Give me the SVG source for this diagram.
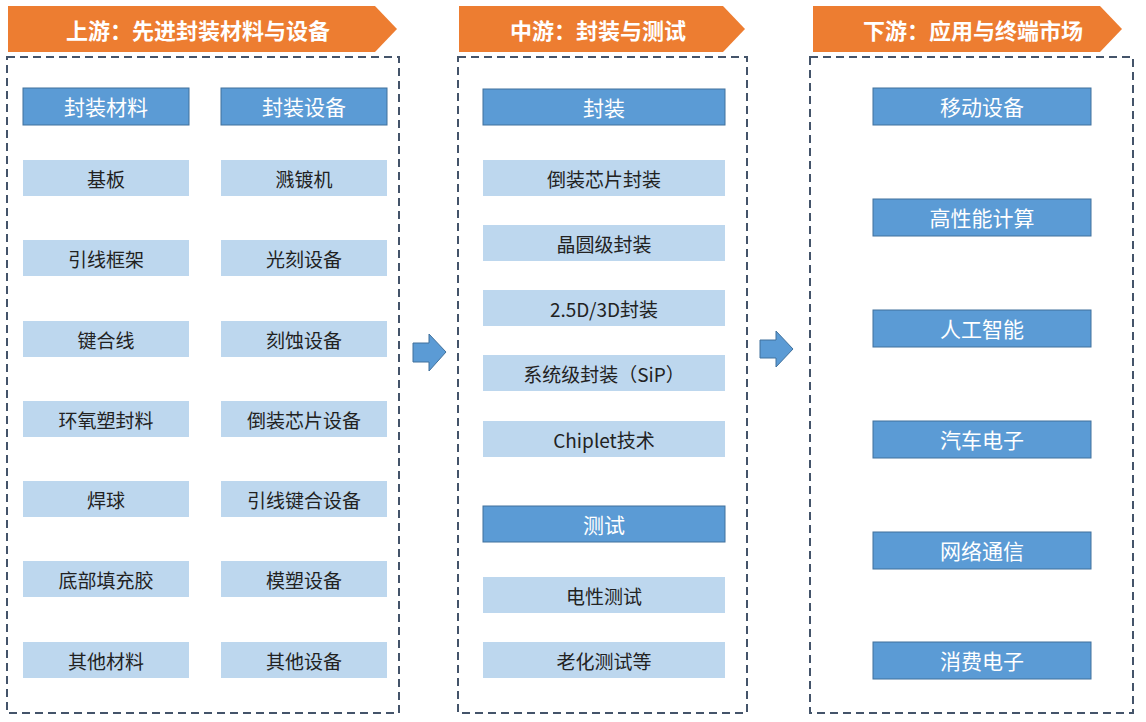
<svg xmlns="http://www.w3.org/2000/svg" width="1146" height="722" viewBox="0 0 1146 722">
<style>
text{font-family:"Noto Sans CJK SC","Noto Sans",sans-serif;text-anchor:middle;dominant-baseline:central}
.hd{fill:#ED7D31}
.hdt{fill:#fff;font-size:22px;font-weight:bold}
.frame{fill:none;stroke:#44546A;stroke-width:2;stroke-dasharray:8 5}
.dk{fill:#5B9BD5;stroke:#41719C;stroke-width:1}
.dkt{fill:#fff;font-size:21px}
.lt{fill:#BDD7EE}
.ltt{fill:#222;font-size:19px}
.ar{fill:#5B9BD5;stroke:#41719C;stroke-width:1}
</style>
<rect width="1146" height="722" fill="#fff"/>
<g id="headers">
<polygon class="hd" points="8,6 375,6 397,29 375,52 8,52"/>
<text class="hdt" x="198" y="29">上游：先进封装材料与设备</text>
<polygon class="hd" points="459,6 723,6 745,29 723,52 459,52"/>
<text class="hdt" x="598" y="29">中游：封装与测试</text>
<polygon class="hd" points="813,6 1100,6 1122,29 1100,52 813,52"/>
<text class="hdt" x="973" y="29">下游：应用与终端市场</text>
</g>
<g id="frames">
<rect class="frame" x="7" y="57" width="392" height="656"/>
<rect class="frame" x="458" y="57" width="289" height="656"/>
<rect class="frame" x="810" y="57" width="323" height="656"/>
</g>
<g id="upstream">
<g id="u-mat"><rect class="dk" x="23" y="88" width="166" height="37"/><text class="dkt" x="106" y="106">封装材料</text></g>
<g id="u-eq"><rect class="dk" x="221" y="88" width="166" height="37"/><text class="dkt" x="304" y="106">封装设备</text></g>
<g id="u1"><rect class="lt" x="23" y="160" width="166" height="36"/><text class="ltt" x="106" y="178">基板</text></g>
<g id="u2"><rect class="lt" x="23" y="240" width="166" height="36"/><text class="ltt" x="106" y="258">引线框架</text></g>
<g id="u3"><rect class="lt" x="23" y="321" width="166" height="36"/><text class="ltt" x="106" y="339">键合线</text></g>
<g id="u4"><rect class="lt" x="23" y="401" width="166" height="36"/><text class="ltt" x="106" y="419">环氧塑封料</text></g>
<g id="u5"><rect class="lt" x="23" y="481" width="166" height="36"/><text class="ltt" x="106" y="499">焊球</text></g>
<g id="u6"><rect class="lt" x="23" y="561" width="166" height="36"/><text class="ltt" x="106" y="579">底部填充胶</text></g>
<g id="u7"><rect class="lt" x="23" y="642" width="166" height="36"/><text class="ltt" x="106" y="660">其他材料</text></g>
<g id="e1"><rect class="lt" x="221" y="160" width="166" height="36"/><text class="ltt" x="304" y="178">溅镀机</text></g>
<g id="e2"><rect class="lt" x="221" y="240" width="166" height="36"/><text class="ltt" x="304" y="258">光刻设备</text></g>
<g id="e3"><rect class="lt" x="221" y="321" width="166" height="36"/><text class="ltt" x="304" y="339">刻蚀设备</text></g>
<g id="e4"><rect class="lt" x="221" y="401" width="166" height="36"/><text class="ltt" x="304" y="419">倒装芯片设备</text></g>
<g id="e5"><rect class="lt" x="221" y="481" width="166" height="36"/><text class="ltt" x="304" y="499">引线键合设备</text></g>
<g id="e6"><rect class="lt" x="221" y="561" width="166" height="36"/><text class="ltt" x="304" y="579">模塑设备</text></g>
<g id="e7"><rect class="lt" x="221" y="642" width="166" height="36"/><text class="ltt" x="304" y="660">其他设备</text></g>
</g>
<g id="midstream">
<g id="m-pk"><rect class="dk" x="483" y="89" width="242" height="36"/><text class="dkt" x="604" y="107">封装</text></g>
<g id="m1"><rect class="lt" x="483" y="160" width="242" height="36"/><text class="ltt" x="604" y="178">倒装芯片封装</text></g>
<g id="m2"><rect class="lt" x="483" y="225" width="242" height="36"/><text class="ltt" x="604" y="243">晶圆级封装</text></g>
<g id="m3"><rect class="lt" x="483" y="290" width="242" height="36"/><text class="ltt" x="604" y="308">2.5D/3D封装</text></g>
<g id="m4"><rect class="lt" x="483" y="355" width="242" height="36"/><text class="ltt" x="604" y="373">系统级封装（SiP）</text></g>
<g id="m5"><rect class="lt" x="483" y="421" width="242" height="36"/><text class="ltt" x="604" y="439">Chiplet技术</text></g>
<g id="m-test"><rect class="dk" x="483" y="506" width="242" height="36"/><text class="dkt" x="604" y="524">测试</text></g>
<g id="m6"><rect class="lt" x="483" y="577" width="242" height="36"/><text class="ltt" x="604" y="595">电性测试</text></g>
<g id="m7"><rect class="lt" x="483" y="642" width="242" height="36"/><text class="ltt" x="604" y="660">老化测试等</text></g>
</g>
<g id="downstream">
<g id="d1"><rect class="dk" x="873" y="88" width="218" height="37"/><text class="dkt" x="982" y="106">移动设备</text></g>
<g id="d2"><rect class="dk" x="873" y="199" width="218" height="37"/><text class="dkt" x="982" y="217">高性能计算</text></g>
<g id="d3"><rect class="dk" x="873" y="310" width="218" height="37"/><text class="dkt" x="982" y="328">人工智能</text></g>
<g id="d4"><rect class="dk" x="873" y="421" width="218" height="37"/><text class="dkt" x="982" y="439">汽车电子</text></g>
<g id="d5"><rect class="dk" x="873" y="532" width="218" height="37"/><text class="dkt" x="982" y="550">网络通信</text></g>
<g id="d6"><rect class="dk" x="873" y="642" width="218" height="37"/><text class="dkt" x="982" y="660">消费电子</text></g>
</g>
<g id="connectors">
<polygon class="ar" points="413,343 429,343 429,334 446,352 429,371 429,362 413,362"/>
<polygon class="ar" points="760,340 776,340 776,331 793,349 776,367 776,358 760,358"/>
</g>
</svg>
